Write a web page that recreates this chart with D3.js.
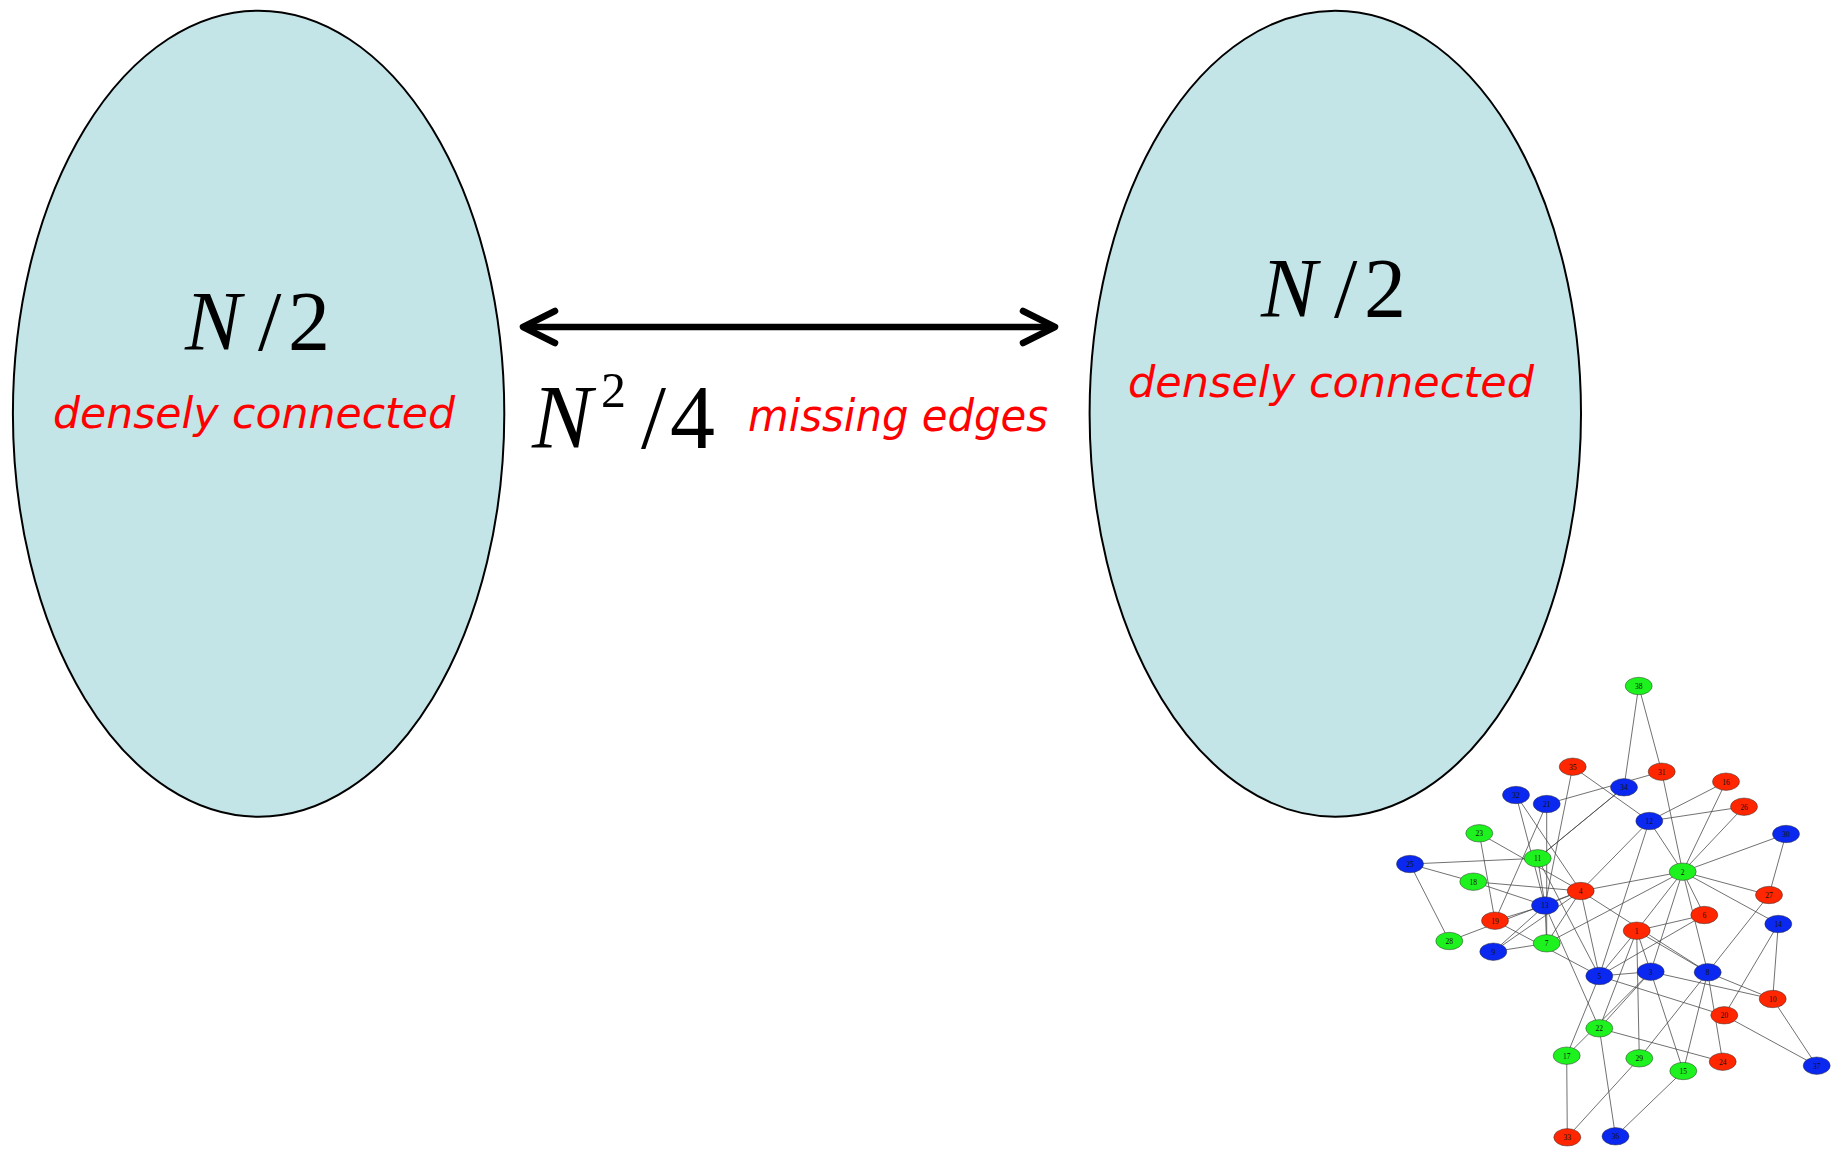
<!DOCTYPE html>
<html>
<head>
<meta charset="utf-8">
<script src="https://cdn.jsdelivr.net/npm/d3@7"></script>
<style>
  html, body { margin: 0; padding: 0; background: #ffffff; }
  svg { display: block; }
</style>
</head>
<body>
<svg id="chart" width="1843" height="1149"></svg>
<script>
// ---- data ----
const nodeIds    = [1,2,3,4,5,6,7,8,9,10,11,12,13,14,15,16,17,18,19,20,21,22,23,24,25,26,27,28,29,30,31,32,33,34,35,36,37,38];
const nodeGroups = ["r","g","b","r","b","r","g","b","b","r","g","b","b","b","g","r","g","g","r","r","b","g","g","r","b","r","r","g","g","b","r","b","r","b","r","b","b","g"];
// layout coordinates of the network drawing (layout units)
const nodeX = [1636.7,1682.7,1650.7,1580.7,1599.3,1704.3,1546.7,1707.7,1493.3,1772.7,1537.7,1649.3,1545,1778.3,1683.3,1726,1566.7,1473.3,1495,1724.3,1546.7,1599.3,1479.3,1722.7,1410,1744,1769,1449.3,1639.3,1786,1661.7,1516,1567.3,1624,1572.7,1615.5,1816.7,1638.7];
const nodeY = [930.7,871.7,971.7,891,976,915,943.3,972.3,951.7,999,858.3,821,905.5,924,1071,781.7,1055.7,881.7,920.7,1015.3,804,1028.3,833.3,1061.7,864,806.7,895,941,1058.3,834,771.7,795,1137.3,787.3,766.7,1136.3,1065.7,686];
const edgeSource = [38,38,31,31,35,35,34,32,32,21,21,23,23,25,25,25,18,18,11,11,11,4,4,4,4,4,4,4,4,13,13,13,13,19,9,7,5,5,5,5,5,17,17,22,22,22,33,36,29,29,15,15,1,1,1,2,2,2,2,2,2,2,2,2,12,12,12,3,8,8,8,14,14,10,20,30,1,22];
const edgeTarget = [34,31,2,21,12,13,11,4,13,19,7,19,4,11,18,28,4,13,34,13,5,2,12,13,7,9,28,5,8,7,19,9,22,5,7,2,17,3,20,6,1,33,3,24,36,3,29,15,1,8,3,8,2,8,3,3,8,6,27,30,16,26,12,14,16,26,5,10,10,24,27,10,20,37,37,27,6,1];
const groupColors = { r: "#ff2600", g: "#1ef21e", b: "#0a28f0" };

const clusterLabels  = ["N", "/", "2"];
const clusterCaption = "densely connected";
const bridgeLabels   = ["N", "2", "/", "4"];
const bridgeCaption  = "missing edges";

// ---- drawing ----
const svg = d3.select("#chart");
const SERIF = "Liberation Serif, Times New Roman, Times, serif";

// big clusters
const clusters = [
  { cx: 258.6, cy: 413.7, labelY: 350, capY: 428, labelX: 185, capX0: 53, capX1: 455 },
  { cx: 1335.3, cy: 413.7, labelY: 317, capY: 397, labelX: 1261, capX0: 1128, capX1: 1534 }
];
svg.selectAll("ellipse.cluster").data(clusters).enter().append("ellipse")
  .attr("class", "cluster")
  .attr("cx", d => d.cx).attr("cy", d => d.cy)
  .attr("rx", 245.7).attr("ry", 403)
  .attr("fill", "#c4e5e8").attr("stroke", "#000").attr("stroke-width", 2);

const labelOffsets = [0, 73, 103];
clusters.forEach(c => {
  const g = svg.append("g");
  clusterLabels.forEach((t, i) => {
    g.append("text").attr("x", c.labelX + labelOffsets[i]).attr("y", c.labelY)
      .attr("font-family", SERIF)
      .attr("font-size", 84)
      .attr("font-style", i === 0 ? "italic" : "normal")
      .attr("fill", "#000").text(t);
  });
  svg.append("text").attr("x", c.capX0).attr("y", c.capY)
    .attr("font-family", "DejaVu Sans, sans-serif").attr("font-style", "italic")
    .attr("font-size", 42).attr("fill", "#ff0000")
    .attr("textLength", c.capX1 - c.capX0).attr("lengthAdjust", "spacingAndGlyphs")
    .text(clusterCaption);
});

// double-headed arrow
const ax0 = 523, ax1 = 1055, ay = 327;
svg.append("line").attr("x1", ax0 + 3).attr("x2", ax1 - 3).attr("y1", ay).attr("y2", ay)
  .attr("stroke", "#000").attr("stroke-width", 6.5);
svg.append("path").attr("d", `M${ax0 + 32},${ay - 16} L${ax0},${ay} L${ax0 + 32},${ay + 16}`)
  .attr("fill", "none").attr("stroke", "#000").attr("stroke-width", 6.5)
  .attr("stroke-linecap", "round").attr("stroke-linejoin", "round");
svg.append("path").attr("d", `M${ax1 - 32},${ay - 16} L${ax1},${ay} L${ax1 - 32},${ay + 16}`)
  .attr("fill", "none").attr("stroke", "#000").attr("stroke-width", 6.5)
  .attr("stroke-linecap", "round").attr("stroke-linejoin", "round");

// N^2 / 4
const bridgePos = [
  { x: 532, y: 448, size: 90, italic: true },
  { x: 601, y: 407, size: 50, italic: false },
  { x: 641, y: 448, size: 90, italic: false },
  { x: 670, y: 448, size: 90, italic: false }
];
bridgeLabels.forEach((t, i) => {
  const p = bridgePos[i];
  svg.append("text").attr("x", p.x).attr("y", p.y)
    .attr("font-family", SERIF)
    .attr("font-size", p.size).attr("font-style", p.italic ? "italic" : "normal")
    .attr("fill", "#000").text(t);
});
svg.append("text").attr("x", 748).attr("y", 431)
  .attr("font-family", "DejaVu Sans, sans-serif").attr("font-style", "italic")
  .attr("font-size", 45).attr("fill", "#ff0000")
  .attr("textLength", 300).attr("lengthAdjust", "spacingAndGlyphs")
  .text(bridgeCaption);

// network inset
const xs = d3.scaleLinear().domain([1400, 1830]).range([1400, 1830]);
const ys = d3.scaleLinear().domain([680, 1140]).range([680, 1140]);
const nodes = nodeIds.map((id, i) => ({ id, x: xs(nodeX[i]), y: ys(nodeY[i]), g: nodeGroups[i] }));
const byId = new Map(nodes.map(n => [n.id, n]));
const edges = edgeSource.map((s, i) => ({ s: byId.get(s), t: byId.get(edgeTarget[i]) }));

const net = svg.append("g");
net.selectAll("line").data(edges).enter().append("line")
  .attr("x1", d => d.s.x).attr("y1", d => d.s.y)
  .attr("x2", d => d.t.x).attr("y2", d => d.t.y)
  .attr("stroke", "#444").attr("stroke-width", 0.9).attr("stroke-opacity", 0.85);
const ng = net.selectAll("g.node").data(nodes).enter().append("g").attr("class", "node")
  .attr("transform", d => `translate(${d.x},${d.y})`);
ng.append("ellipse").attr("rx", 13.5).attr("ry", 8.7)
  .attr("fill", d => groupColors[d.g]).attr("stroke", "#333").attr("stroke-width", 0.5);
ng.append("text").attr("text-anchor", "middle").attr("dy", 2.8)
  .attr("font-family", "Liberation Serif, serif").attr("font-size", 7.5)
  .attr("fill", "#111").text(d => d.id);
</script>
</body>
</html>
